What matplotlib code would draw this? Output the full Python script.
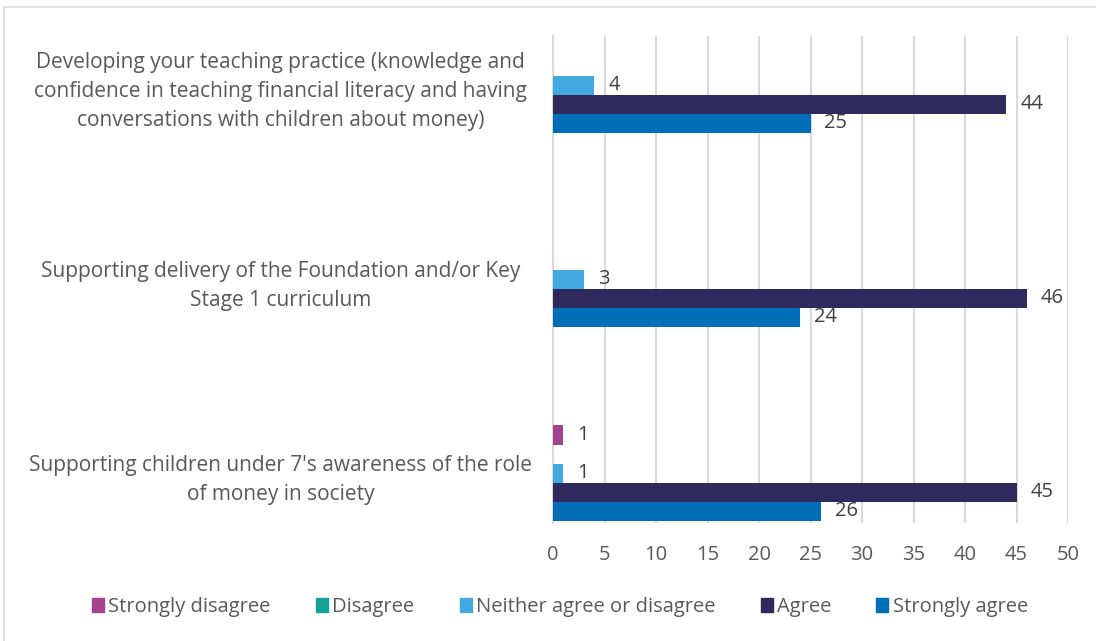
import matplotlib.pyplot as plt
from matplotlib.lines import Line2D
from matplotlib.patches import Patch
import numpy as np

plt.rcParams['font.family'] = ['Open Sans', 'DejaVu Sans']

# categories listed bottom to top
categories = [
    "Supporting children under 7's awareness of the role\nof money in society",
    "Supporting delivery of the Foundation and/or Key\nStage 1 curriculum",
    "Developing your teaching practice (knowledge and\nconfidence in teaching financial literacy and having\nconversations with children about money)",
]
series = ["Strongly disagree", "Disagree", "Neither agree or disagree", "Agree", "Strongly agree"]
strongly_disagree = [1, 0, 0]
disagree = [0, 0, 0]
neither = [1, 3, 4]
agree = [45, 46, 44]
strongly_agree = [26, 24, 25]
values = [strongly_disagree, disagree, neither, agree, strongly_agree]
colors = ["#A3428F", "#13A29A", "#41A9E0", "#2E2A5E", "#006EB6"]
text_col = "#595959"
grid_col = "#D9D9D9"

fig = plt.figure(figsize=(10.96, 6.41), dpi=100)
ax = fig.add_axes([0.5046, 0.184, 0.9745 - 0.5046, 0.9438 - 0.184])

y = np.arange(len(categories))
h = 0.098
offsets = [2 * h, h, 0, -h, -2 * h]
for vals, name, col, off in zip(values, series, colors, offsets):
    bars = ax.barh(y + off, vals, height=h, color=col, label=name, zorder=3)
    for b, v in zip(bars, vals):
        if v > 0:
            ax.annotate(str(v), (b.get_width(), b.get_y() + h / 2),
                        xytext=(10, 0), textcoords='offset points',
                        ha='left', va='center', fontsize=14.5, color='#404040')

ax.set_xlim(0, 50)
ax.set_ylim(-0.258, 2.253)
ax.set_xticks(range(0, 51, 5))
ax.set_yticks(y)
ax.set_yticklabels(categories, ha='center', multialignment='center', linespacing=1.5)
ax.tick_params(axis='y', length=0, pad=196, labelsize=15, labelcolor=text_col)
ax.tick_params(axis='x', length=0, pad=16, labelsize=14.5, labelcolor=text_col)
ax.xaxis.grid(True, color=grid_col, lw=1.5, zorder=0)
for s in ['top', 'right', 'bottom']:
    ax.spines[s].set_visible(False)
ax.spines['left'].set_color(grid_col)
ax.spines['left'].set_linewidth(1.5)

handles = [Patch(color=c, label=n) for c, n in zip(colors, series)]
fig.legend(handles=handles, loc='center', bbox_to_anchor=(0.511, 0.053), ncol=5,
           frameon=False, fontsize=14.5, labelcolor=text_col,
           handlelength=0.6, handleheight=0.7, handletextpad=0.2, columnspacing=2.25)

# chart frame
fig.add_artist(Line2D([4 / 1096, 1], [1 - 7 / 641, 1 - 7 / 641], color=grid_col, lw=1.2))
fig.add_artist(Line2D([4 / 1096, 4 / 1096], [0, 1 - 7 / 641], color=grid_col, lw=1.2))

fig.savefig('out.png', dpi=100)
